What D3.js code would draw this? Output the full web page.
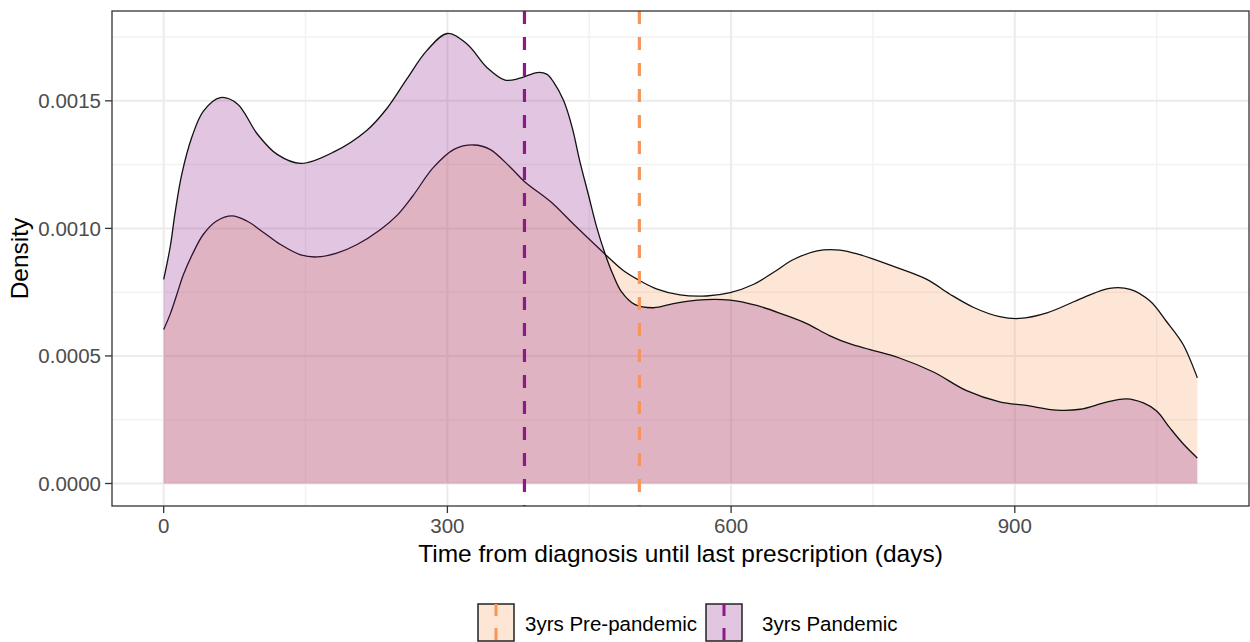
<!DOCTYPE html>
<html><head><meta charset="utf-8">
<script src="https://cdn.jsdelivr.net/npm/d3@7"></script>
<style>body{margin:0;background:#fff}svg{display:block;font-family:"Liberation Sans",Arial,sans-serif}</style>
</head><body><svg id="c" width="1250" height="642"></svg>
<script>
// Data (days, density)
const seriesNames = ["3yrs Pre-pandemic", "3yrs Pandemic"];
const preDays = [0,7,14,21,32,42,56,72,88,106,123,145,162,183,204,229,247,263,285,307,328,345,366,382,409,433,467,486,504,521,546,574,599,624,645,666,691,715,736,771,807,831,856,884,905,934,972,1000,1022,1043,1060,1078,1093];
const preDens = [0.000604,0.000665,0.000742,0.00082,0.000911,0.000977,0.001029,0.001049,0.001029,0.000983,0.000938,0.000896,0.000888,0.000903,0.000936,0.000995,0.001052,0.001125,0.001238,0.00131,0.001327,0.00131,0.001242,0.001182,0.001105,0.001018,0.000898,0.000835,0.000794,0.000763,0.000739,0.000735,0.000748,0.000781,0.000828,0.000878,0.000912,0.000915,0.000897,0.000852,0.0008,0.000743,0.000691,0.000654,0.000647,0.000669,0.000728,0.000765,0.000761,0.000715,0.000637,0.000545,0.000414];
const panDays = [0,7,12,19,30,42,60,78,99,120,145,180,215,236,257,278,300,321,342,361,377,395,405,412,423,432,440,449,458,467,475,484,498,518,539,564,599,627,655,680,704,726,747,778,814,849,884,912,944,969,997,1018,1036,1050,1064,1078,1093];
const panDens = [0.0008,0.00093,0.00106,0.00121,0.00136,0.00146,0.001513,0.001488,0.00137,0.00129,0.001255,0.0013,0.001385,0.00147,0.001585,0.001696,0.001764,0.001722,0.00163,0.001581,0.001589,0.001611,0.001605,0.001575,0.0015,0.001395,0.001264,0.001134,0.001003,0.000898,0.00082,0.000752,0.000702,0.000689,0.000705,0.000719,0.000719,0.000698,0.000663,0.000627,0.00058,0.000547,0.000525,0.000492,0.000437,0.000364,0.00032,0.000306,0.000288,0.000291,0.000319,0.000332,0.000316,0.000284,0.000218,0.000156,0.0001];
const medians = [503, 381.5]; // pre, pandemic
const xTicks = [0, 300, 600, 900];
const xMinor = [150, 450, 750, 1050];
const yTicks = [0, 0.0005, 0.0010, 0.0015];
const yMinor = [0.00025, 0.00075, 0.00125, 0.00175];
const yTickLabels = ["0.0000", "0.0005", "0.0010", "0.0015"];
const fillColors = ["#F89A5A", "#8C1A88"];
const lineColors = ["#F8955A", "#8A1A87"];
const xTitle = "Time from diagnosis until last prescription (days)";
const yTitle = "Density";

const svg = d3.select("#c");
const L = 112, R = 1249, T = 11, B = 506;
const xMax = d3.max(preDays.concat(panDays));
const yMaxV = d3.max(preDens.concat(panDens));
const x = d3.scaleLinear().domain([-0.05 * xMax, 1.05 * xMax]).range([L, R]);
const y = d3.scaleLinear().domain([-0.05 * yMaxV, 1.05 * yMaxV]).range([B, T]);

// grid
const g = svg.append("g");
g.selectAll(".vmin").data(xMinor).join("line").attr("x1", d => x(d)).attr("x2", d => x(d)).attr("y1", T).attr("y2", B).attr("stroke", "#F2F2F2").attr("stroke-width", 1.5);
g.selectAll(".hmin").data(yMinor).join("line").attr("y1", d => y(d)).attr("y2", d => y(d)).attr("x1", L).attr("x2", R).attr("stroke", "#F2F2F2").attr("stroke-width", 1.5);
g.selectAll(".vmaj").data(xTicks).join("line").attr("x1", d => x(d)).attr("x2", d => x(d)).attr("y1", T).attr("y2", B).attr("stroke", "#EBEBEB").attr("stroke-width", 2);
g.selectAll(".hmaj").data(yTicks).join("line").attr("y1", d => y(d)).attr("y2", d => y(d)).attr("x1", L).attr("x2", R).attr("stroke", "#EBEBEB").attr("stroke-width", 2);

// densities
const series = [
  preDays.map((d, i) => [d, preDens[i]]),
  panDays.map((d, i) => [d, panDens[i]])
];
const area = d3.area().x(d => x(d[0])).y0(y(0)).y1(d => y(d[1])).curve(d3.curveCatmullRom.alpha(0.5));
const line = d3.line().x(d => x(d[0])).y(d => y(d[1])).curve(d3.curveCatmullRom.alpha(0.5));
series.forEach((s, i) => {
  svg.append("path").datum(s).attr("d", area).attr("fill", fillColors[i]).attr("fill-opacity", 0.25);
  svg.append("path").datum(s).attr("d", line).attr("fill", "none").attr("stroke", "#111").attr("stroke-width", 1.3);
});

// median lines
medians.forEach((m, i) => {
  svg.append("line").attr("x1", x(m)).attr("x2", x(m)).attr("y1", T).attr("y2", B)
    .attr("stroke", lineColors[i]).attr("stroke-width", 3.2).attr("stroke-dasharray", "13 13");
});

// panel border
svg.append("rect").attr("x", L).attr("y", T).attr("width", R - L).attr("height", B - T)
  .attr("fill", "none").attr("stroke", "#333").attr("stroke-width", 1.3);

// x axis
const xa = svg.append("g");
xa.selectAll("line").data(xTicks).join("line").attr("x1", d => x(d)).attr("x2", d => x(d)).attr("y1", B).attr("y2", B + 7).attr("stroke", "#333").attr("stroke-width", 1.3);
xa.selectAll("text").data(xTicks).join("text").attr("x", d => x(d)).attr("y", 533).attr("text-anchor", "middle")
  .attr("font-size", 20.5).attr("fill", "#4D4D4D").text(d => d);
// y axis
const ya = svg.append("g");
ya.selectAll("line").data(yTicks).join("line").attr("y1", d => y(d)).attr("y2", d => y(d)).attr("x1", L - 7).attr("x2", L).attr("stroke", "#333").attr("stroke-width", 1.3);
ya.selectAll("text").data(yTicks).join("text").attr("x", L - 11).attr("y", d => y(d)).attr("dy", "0.36em").attr("text-anchor", "end")
  .attr("font-size", 20.5).attr("fill", "#4D4D4D").text((d, i) => yTickLabels[i]);

// titles
svg.append("text").attr("x", (L + R) / 2).attr("y", 562).attr("text-anchor", "middle").attr("font-size", 24.5).attr("fill", "#000").text(xTitle);
svg.append("text").attr("transform", `translate(28,${(T + B) / 2}) rotate(-90)`).attr("text-anchor", "middle").attr("font-size", 24.5).attr("fill", "#000").text(yTitle);

// legend
const legX = [478, 706], legTextX = [525, 762];
seriesNames.forEach((n, i) => {
  const lg = svg.append("g");
  lg.append("rect").attr("x", legX[i]).attr("y", 604).attr("width", 36).attr("height", 37).attr("fill", "#fff");
  lg.append("rect").attr("x", legX[i]).attr("y", 604).attr("width", 36).attr("height", 37)
    .attr("fill", fillColors[i]).attr("fill-opacity", 0.25).attr("stroke", "#222").attr("stroke-width", 1.5);
  lg.append("line").attr("x1", legX[i] + 18).attr("x2", legX[i] + 18).attr("y1", 604).attr("y2", 641)
    .attr("stroke", lineColors[i]).attr("stroke-width", 3).attr("stroke-dasharray", "12 12");
  lg.append("text").attr("x", legTextX[i]).attr("y", 631).attr("font-size", 20.5).attr("fill", "#000").text(n);
});
</script></body></html>
